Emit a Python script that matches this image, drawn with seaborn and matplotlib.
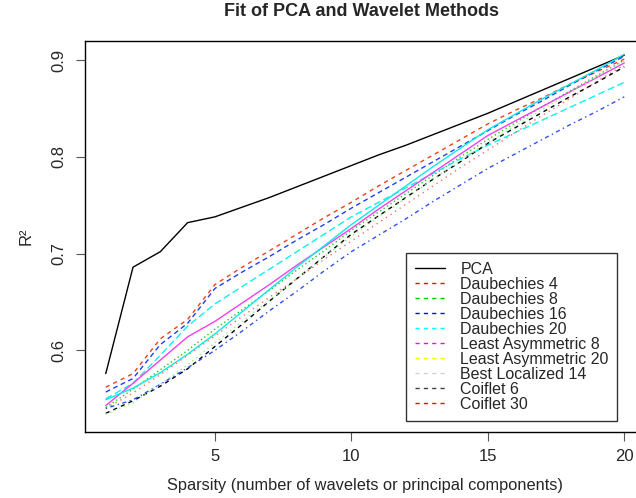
import numpy as np
import pandas as pd
import matplotlib
matplotlib.use("Agg")
import matplotlib.pyplot as plt
from matplotlib.lines import Line2D
import seaborn as sns

sparsity = list(range(1, 21))

pca = [0.576, 0.686, 0.702, 0.732, 0.738, 0.748, 0.758, 0.769, 0.780, 0.791,
       0.802, 0.812, 0.823, 0.834, 0.845, 0.857, 0.869, 0.881, 0.893, 0.905]
daub4 = [0.562, 0.576, 0.612, 0.632, 0.668, 0.686, 0.703, 0.720, 0.737, 0.753,
         0.770, 0.786, 0.802, 0.818, 0.834, 0.848, 0.861, 0.875, 0.888, 0.901]
daub8 = [0.541, 0.560, 0.580, 0.600, 0.622, 0.642, 0.662, 0.683, 0.703, 0.724,
         0.743, 0.762, 0.781, 0.800, 0.818, 0.835, 0.852, 0.868, 0.884, 0.900]
daub16 = [0.557, 0.571, 0.606, 0.628, 0.664, 0.681, 0.697, 0.714, 0.730, 0.747,
          0.763, 0.779, 0.795, 0.811, 0.827, 0.843, 0.858, 0.874, 0.889, 0.904]
daub20 = [0.550, 0.566, 0.595, 0.625, 0.648, 0.666, 0.684, 0.702, 0.720, 0.738,
          0.753, 0.768, 0.783, 0.798, 0.812, 0.825, 0.838, 0.851, 0.864, 0.877]
la8 = [0.543, 0.566, 0.590, 0.614, 0.630, 0.649, 0.668, 0.688, 0.707, 0.726,
       0.746, 0.765, 0.784, 0.803, 0.822, 0.837, 0.852, 0.867, 0.882, 0.897]
la20 = [0.549, 0.561, 0.577, 0.596, 0.617, 0.640, 0.663, 0.686, 0.708, 0.730,
        0.750, 0.770, 0.790, 0.809, 0.828, 0.844, 0.860, 0.875, 0.890, 0.906]
bl14 = [0.540, 0.556, 0.575, 0.595, 0.615, 0.635, 0.655, 0.674, 0.694, 0.713,
        0.732, 0.751, 0.770, 0.789, 0.807, 0.825, 0.843, 0.860, 0.878, 0.895]
coif6 = [0.535, 0.548, 0.563, 0.581, 0.604, 0.627, 0.651, 0.674, 0.697, 0.720,
         0.739, 0.758, 0.777, 0.795, 0.814, 0.830, 0.846, 0.862, 0.877, 0.893]
coif30 = [0.540, 0.549, 0.565, 0.582, 0.600, 0.620, 0.641, 0.661, 0.682, 0.702,
          0.719, 0.736, 0.754, 0.771, 0.788, 0.803, 0.818, 0.833, 0.847, 0.862]
extra = [0.534, 0.546, 0.565, 0.585, 0.608, 0.630, 0.652, 0.674, 0.697, 0.718,
         0.738, 0.757, 0.777, 0.796, 0.815, 0.832, 0.849, 0.866, 0.883, 0.899]

legend_labels = ["PCA", "Daubechies 4", "Daubechies 8", "Daubechies 16",
                 "Daubechies 20", "Least Asymmetric 8", "Least Asymmetric 20",
                 "Best Localized 14", "Coiflet 6", "Coiflet 30"]
legend_colors = ["black", "#FF0000", "#00CD00", "#0000FF", "#00FFFF",
                 "#FF00FF", "#FFFF00", "#D3D3D3", "#404040", "#FF0000"]

series = {
    "PCA": pca, "Daubechies 4": daub4, "Daubechies 8": daub8,
    "Daubechies 16": daub16, "Daubechies 20": daub20,
    "Least Asymmetric 8": la8, "Least Asymmetric 20": la20,
    "Best Localized 14": bl14, "Coiflet 6": coif6, "Coiflet 30": coif30,
    "extra": extra,
}
line_colors = {
    "PCA": "black", "Daubechies 4": "#F0401E", "Daubechies 8": "#20C820",
    "Daubechies 16": "#2040F0", "Daubechies 20": "#10F0F0",
    "Least Asymmetric 8": "#F040F0", "Least Asymmetric 20": "#10E8E8",
    "Best Localized 14": "#F87060", "Coiflet 6": "black", "Coiflet 30": "#3050F0",
    "extra": "#90F090",
}
line_dashes = {
    "PCA": "", "Daubechies 4": (3, 3), "Daubechies 8": (1, 2),
    "Daubechies 16": (3.5, 2.5), "Daubechies 20": (5, 2.5),
    "Least Asymmetric 8": "", "Least Asymmetric 20": "",
    "Best Localized 14": (1, 3), "Coiflet 6": (3, 3), "Coiflet 30": (1, 2.5, 3, 2.5),
    "extra": (1, 2.5),
}

rows = []
for name, vals in series.items():
    for s, v in zip(sparsity, vals):
        rows.append({"series": name, "sparsity": s, "r2": v})
df = pd.DataFrame(rows)

sns.set_style("ticks")
plt.rcParams["font.family"] = ["Liberation Sans", "DejaVu Sans"]

fig = plt.figure(figsize=(6.36, 4.98), dpi=100)
ax = fig.add_axes([85 / 636, 1 - 431.7 / 498, 560 / 636, (431.7 - 40.7) / 498])

sns.lineplot(data=df, x="sparsity", y="r2", hue="series", style="series",
             palette=line_colors, dashes=line_dashes, linewidth=1.0,
             legend=False, ax=ax, sort=False)

ax.set_xlim(0.24, 20.76)
ax.set_ylim(0.516, 0.920)
ax.set_xticks([5, 10, 15, 20])
ax.set_xticklabels(["5", "10", "15", "20"])
ax.set_yticks([0.6, 0.7, 0.8, 0.9])
ax.set_yticklabels(["0.6", "0.7", "0.8", "0.9"], rotation=90, va="center")
ax.tick_params(axis="both", direction="out", length=6.5, width=0.8,
               color="#555555", labelsize=12)
ax.tick_params(axis="x", pad=6)
ax.tick_params(axis="y", pad=7)
for sp in ax.spines.values():
    sp.set_visible(True)
    sp.set_color("black")
    sp.set_linewidth(1.0)

ax.set_xlabel("Sparsity (number of wavelets or principal components)",
              fontsize=11.8, labelpad=10)
ax.set_ylabel("R²", fontsize=12, labelpad=13)
fig.text(362 / 636, 1 - 12 / 498, "Fit of PCA and Wavelet Methods",
         ha="center", va="center", fontsize=13, fontweight="bold")

handles = []
for lab, col in zip(legend_labels, legend_colors):
    ls = "-" if lab == "PCA" else (0, (3, 3))
    handles.append(Line2D([0], [0], color=col, linestyle=ls, linewidth=1.0))
leg = ax.legend(handles=handles, labels=legend_labels, loc="upper left",
                bbox_to_anchor=(406 / 636, 1 - 253 / 498),
                bbox_transform=fig.transFigure, fontsize=11.5, frameon=True,
                fancybox=False, handlelength=1.9, handletextpad=0.95,
                labelspacing=0.0, borderpad=0.55, borderaxespad=0)
leg.get_frame().set_edgecolor("black")
leg.get_frame().set_linewidth(1.0)

fig.savefig("out.png", dpi=100)
